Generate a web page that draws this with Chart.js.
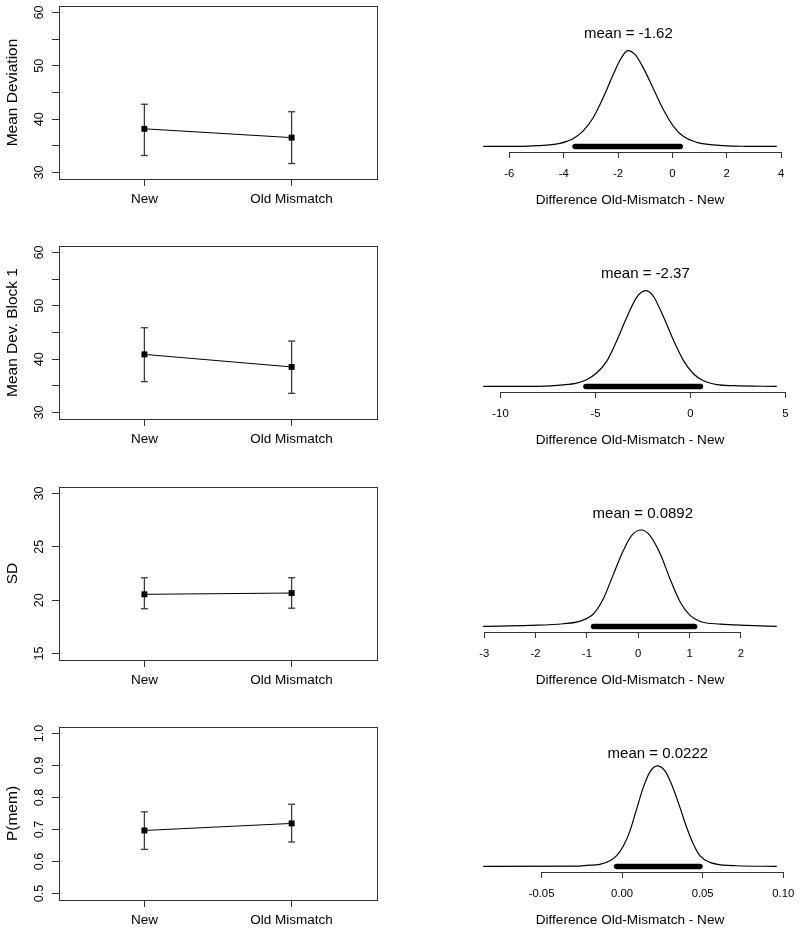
<!DOCTYPE html>
<html>
<head>
<meta charset="utf-8">
<script src="https://cdn.jsdelivr.net/npm/chart.js@4.4.1/dist/chart.umd.min.js"></script>
<style>
  html, body { margin:0; padding:0; background:#fff; overflow:hidden; }
  #wrap { position:relative; width:800px; height:930px; }
  #wrap canvas { position:absolute; }
</style>
</head>
<body>
<div id="wrap"></div>
<script>
const FONT = '"Liberation Sans", Arial, Helvetica, sans-serif';

// left column: group means with error bars
const groupLabels = ['New', 'Old Mismatch'];
const groupPos = [1, 2];

const devMean = [38.2, 36.55], devLo = [33.2, 31.7], devHi = [42.8, 41.4];
const blockMean = [40.9, 38.55], blockLo = [35.8, 33.6], blockHi = [45.9, 43.4];
const sdMean = [20.55, 20.67], sdLo = [19.2, 19.25], sdHi = [22.1, 22.1];
const pmemMean = [0.697, 0.719], pmemLo = [0.638, 0.661], pmemHi = [0.755, 0.779];

const devTicks = [30, 35, 40, 45, 50, 55, 60];
const devTickLabels = ['30', '', '40', '', '50', '', '60'];
const sdTicks = [15, 20, 25, 30];
const sdTickLabels = ['15', '20', '25', '30'];
const pmemTicks = [0.5, 0.6, 0.7, 0.8, 0.9, 1.0];
const pmemTickLabels = ['0.5', '0.6', '0.7', '0.8', '0.9', '1.0'];

// right column: posterior of the difference
const diffTitle = 'Difference Old-Mismatch - New';

const dens1X = [-6.96, -5.60, -4.99, -4.63, -4.13, -3.89, -3.64, -3.28, -2.91, -2.54, -2.17, -1.93, -1.64, -1.37, -1.07, -0.70, -0.33, 0.04, 0.40, 0.90, 1.51, 2.00, 2.70, 3.84];
const dens1Y = [0, 0.0005, 0.003, 0.005, 0.013, 0.021, 0.033, 0.065, 0.121, 0.205, 0.302, 0.360, 0.400, 0.383, 0.328, 0.241, 0.153, 0.084, 0.042, 0.017, 0.006, 0.002, 0.0005, 0];
const hdi1 = [-3.58, 0.29];
const mean1 = -1.62;
const ticks1 = [-6, -4, -2, 0, 2, 4];
const tickLabels1 = ['-6', '-4', '-2', '0', '2', '4'];

const dens2X = [-10.91, -7.57, -6.70, -5.99, -5.47, -4.94, -4.41, -3.89, -3.36, -2.83, -2.36, -1.95, -1.43, -0.90, -0.37, 0.16, 0.69, 1.39, 2.27, 4.55];
const dens2Y = [0, 0.001, 0.004, 0.009, 0.018, 0.036, 0.067, 0.121, 0.184, 0.239, 0.257, 0.242, 0.188, 0.125, 0.070, 0.034, 0.015, 0.005, 0.002, 0];
const hdi2 = [-5.5, 0.53];
const mean2 = -2.37;
const ticks2 = [-10, -5, 0, 5];
const tickLabels2 = ['-10', '-5', '0', '5'];

const dens3X = [-3.02, -2.11, -1.46, -1.13, -0.87, -0.68, -0.48, -0.29, -0.13, 0.06, 0.23, 0.43, 0.62, 0.82, 1.01, 1.21, 1.60, 2.12, 2.70];
const dens3Y = [0, 0.008, 0.022, 0.044, 0.105, 0.229, 0.436, 0.629, 0.753, 0.80, 0.753, 0.601, 0.394, 0.201, 0.091, 0.041, 0.019, 0.008, 0];
const hdi3 = [-0.87, 1.10];
const mean3 = 0.0892;
const ticks3 = [-3, -2, -1, 0, 1, 2];
const tickLabels3 = ['-3', '-2', '-1', '0', '1', '2'];

const dens4X = [-0.0862, -0.0262, -0.0220, -0.0138, -0.0076, -0.0034, 0.0007, 0.0049, 0.0090, 0.0131, 0.0173, 0.0218, 0.0266, 0.0307, 0.0359, 0.0401, 0.0442, 0.0483, 0.0546, 0.0628, 0.0711, 0.0960];
const dens4Y = [0, 0.1, 0.3, 0.6, 1.7, 3.2, 6.0, 10.6, 17.1, 23.5, 28.2, 30.0, 28.5, 24.5, 17.6, 11.6, 6.7, 3.2, 1.2, 0.4, 0.2, 0];
const hdi4 = [-0.0034, 0.0483];
const mean4 = 0.0222;
const ticks4 = [-0.05, 0, 0.05, 0.10];
const tickLabels4 = ['-0.05', '0.00', '0.05', '0.10'];

const AXIS = '#333';

function addCanvas(left, top, w, h){
  const c = document.createElement('canvas');
  c.width = w; c.height = h;
  c.style.left = left + 'px'; c.style.top = top + 'px';
  c.style.width = w + 'px'; c.style.height = h + 'px';
  document.getElementById('wrap').appendChild(c);
  return c;
}

// full box around the plot region (R's box())
const boxPlugin = {
  id:'box',
  afterDraw(chart){
    const a = chart.chartArea, ctx = chart.ctx;
    ctx.save();
    ctx.strokeStyle = AXIS; ctx.lineWidth = 1;
    ctx.strokeRect(Math.round(a.left)+0.5, Math.round(a.top)+0.5, Math.round(a.right-a.left), Math.round(a.bottom-a.top));
    ctx.restore();
  }
};

// y tick labels drawn parallel to the axis
const yLabelPlugin = {
  id:'yLabels',
  afterDraw(chart){
    const s = chart.scales.y, a = chart.chartArea, ctx = chart.ctx;
    ctx.save();
    ctx.font = '12.6px ' + FONT;
    ctx.fillStyle = '#000'; ctx.textAlign = 'center'; ctx.textBaseline = 'middle';
    s.ticks.forEach(t => {
      if(!t.label) return;
      ctx.save();
      ctx.translate(a.left - 19, s.getPixelForValue(t.value));
      ctx.rotate(-Math.PI/2);
      ctx.fillText(t.label, 0, 0);
      ctx.restore();
    });
    ctx.restore();
  }
};

// axis line only between first and last tick, plus the "mean = " label
const postPlugin = {
  id:'post',
  afterDraw(chart, args, opts){
    const s = chart.scales.x, a = chart.chartArea, ctx = chart.ctx;
    const t = s.ticks;
    ctx.save();
    ctx.strokeStyle = AXIS; ctx.lineWidth = 1;
    const y = Math.round(a.bottom) + 0.5;
    ctx.beginPath();
    ctx.moveTo(s.getPixelForValue(t[0].value), y);
    ctx.lineTo(s.getPixelForValue(t[t.length-1].value), y);
    ctx.stroke();
    ctx.font = '15px ' + FONT;
    ctx.fillStyle = '#000'; ctx.textAlign = 'center'; ctx.textBaseline = 'middle';
    ctx.fillText('mean = ' + opts.mean, s.getPixelForValue(opts.mean), a.top + 32.5);
    ctx.restore();
  }
};

function makeLeft(boxTop, yTitle, vals, lo, hi, yTicks, yTickLabels){
  const cv = addCanvas(0, boxTop - 6, 400, 215);
  const datasets = [{
    data: groupPos.map((x, i) => ({x, y: vals[i]})),
    showLine:true, borderColor:'#000', borderWidth:1,
    pointStyle:'rect', pointRadius:4.2, pointBackgroundColor:'#000', pointBorderWidth:0
  }];
  groupPos.forEach((x, i) => datasets.push({
    data:[{x, y: lo[i]}, {x, y: hi[i]}],
    showLine:true, borderColor:'#3a3a3a', borderWidth:1.3,
    pointStyle:'line', pointRadius:3.5, pointBorderColor:'#3a3a3a', pointBorderWidth:1.3
  }));
  const yMin = yTicks[0], yMax = yTicks[yTicks.length-1], ext = (yMax - yMin) * 0.04;
  return new Chart(cv, {
    type:'scatter',
    data:{datasets},
    options:{
      responsive:false, animation:false, events:[],
      layout:{padding:{top:6, left:0, right:23, bottom:0}},
      plugins:{legend:{display:false}, tooltip:{enabled:false}},
      scales:{
        x:{
          type:'linear', bounds:'data', min:0.42, max:2.58,
          afterBuildTicks: s => { s.ticks = groupPos.map(v => ({value:v})); },
          ticks:{callback:(v, i) => groupLabels[i], font:{family:FONT, size:13.5}, color:'#000', padding:5, maxRotation:0, autoSkip:false},
          grid:{drawOnChartArea:false, tickLength:7, color:AXIS},
          border:{display:false},
          afterFit: s => { s.height = 36; s.paddingLeft = 0; s.paddingRight = 0; }
        },
        y:{
          type:'linear', bounds:'data', min:yMin - ext, max:yMax + ext,
          afterBuildTicks: s => { s.ticks = yTicks.map(v => ({value:v})); },
          ticks:{display:false, callback:(v, i) => yTickLabels[i]},
          grid:{drawOnChartArea:false, tickLength:7, color:AXIS},
          border:{display:false},
          title:{display:true, text:yTitle, color:'#000', font:{family:FONT, size:15.5}, padding:{top:3, bottom:0}},
          afterFit: s => { s.width = 59; s.paddingTop = 0; s.paddingBottom = 0; }
        }
      }
    },
    plugins:[boxPlugin, yLabelPlugin]
  });
}

function makeRight(top, xs, dens, hdi, meanVal, ticks, tickLabels, headroom){
  const cv = addCanvas(400, top, 400, 212);
  const span = xs[xs.length-1] - xs[0];
  const yTop = Math.max(...dens) * headroom;
  return new Chart(cv, {
    type:'scatter',
    data:{datasets:[
      {data: xs.map((x, i) => ({x, y: dens[i]})), showLine:true, borderColor:'#000', borderWidth:1.2,
       pointRadius:0, cubicInterpolationMode:'monotone'},
      {data:[{x:hdi[0], y:0}, {x:hdi[1], y:0}], showLine:true, borderColor:'#000', borderWidth:5.5,
       borderCapStyle:'round', pointRadius:0}
    ]},
    options:{
      responsive:false, animation:false, events:[],
      layout:{padding:{top:1, left:71.5, right:11.5, bottom:0}},
      plugins:{legend:{display:false}, tooltip:{enabled:false}, post:{mean:meanVal}},
      scales:{
        x:{
          type:'linear', bounds:'data', min:xs[0] - 0.04*span, max:xs[xs.length-1] + 0.04*span,
          afterBuildTicks: s => { s.ticks = ticks.map(v => ({value:v})); },
          ticks:{callback:(v, i) => tickLabels[i], font:{family:FONT, size:11.3}, color:'#000', padding:9, maxRotation:0, autoSkip:false},
          grid:{drawOnChartArea:false, tickLength:6, color:AXIS},
          border:{display:false},
          title:{display:true, text:diffTitle, color:'#000', font:{family:FONT, size:13.6}, padding:{top:0, bottom:4}},
          afterFit: s => { s.height = 60; s.paddingLeft = 0; s.paddingRight = 0; }
        },
        y:{type:'linear', display:false, bounds:'data', min:-0.04*yTop, max:1.04*yTop}
      }
    },
    plugins:[postPlugin]
  });
}

makeLeft(6, 'Mean Deviation', devMean, devLo, devHi, devTicks, devTickLabels);
makeLeft(246, 'Mean Dev. Block 1', blockMean, blockLo, blockHi, devTicks, devTickLabels);
makeLeft(487, 'SD', sdMean, sdLo, sdHi, sdTicks, sdTickLabels);
makeLeft(727, 'P(mem)', pmemMean, pmemLo, pmemHi, pmemTicks, pmemTickLabels);

makeRight(0, dens1X, dens1Y, hdi1, mean1, ticks1, tickLabels1, 1.46);
makeRight(240, dens2X, dens2Y, hdi2, mean2, ticks2, tickLabels2, 1.46);
makeRight(480, dens3X, dens3Y, hdi3, mean3, ticks3, tickLabels3, 1.45);
makeRight(720, dens4X, dens4Y, hdi4, mean4, ticks4, tickLabels4, 1.39);
</script>
</body>
</html>
